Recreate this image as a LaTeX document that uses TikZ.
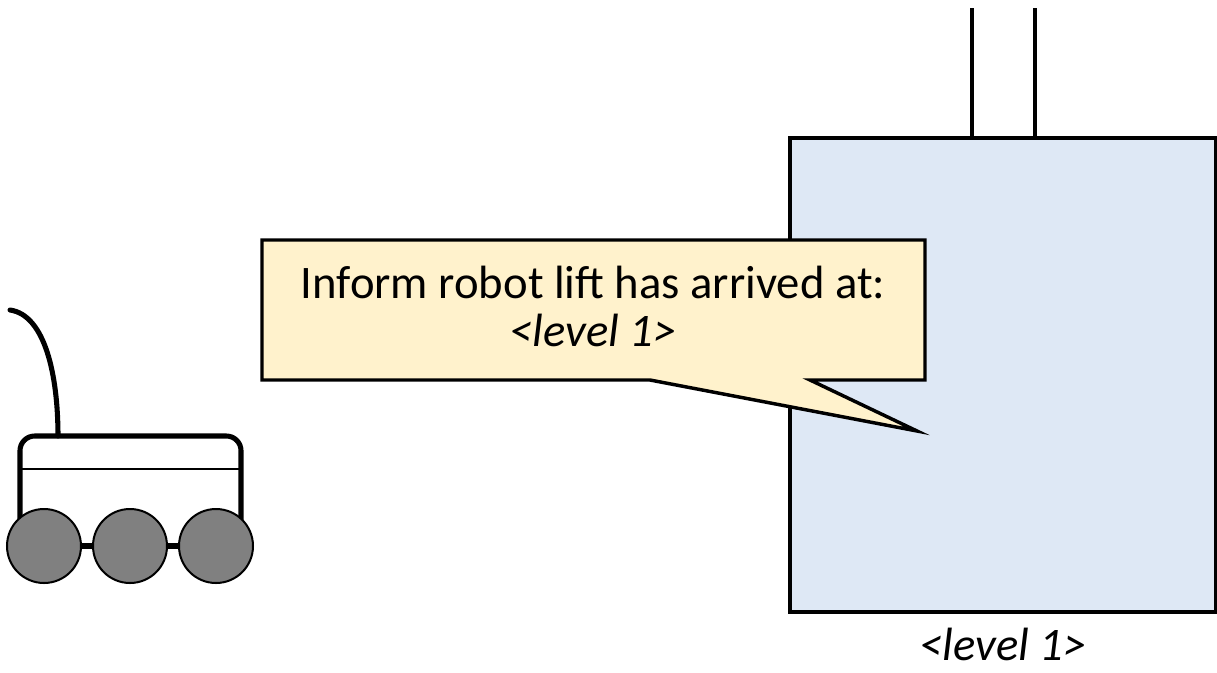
\documentclass[tikz,border=0pt]{standalone}
\usepackage{fontspec}
\setmainfont{Carlito}
\begin{document}
\begin{tikzpicture}[x=0.75pt,y=-0.75pt,
  liftbox/.style={draw=black,fill=liftblue,line width=2.4pt,inner sep=0pt,
    minimum width=319.5pt,minimum height=355.5pt},
  cable/.style={draw=black,line width=3pt},
  bubble/.style={draw=black,fill=noteyellow,line width=2.6pt,line join=miter},
  msgtext/.style={font=\fontsize{35}{42}\selectfont,anchor=base,inner sep=0pt},
  chassis/.style={draw=black,line width=3.8pt},
  wheel/.style={circle,draw=black,fill=wheelgray,line width=1.5pt,minimum size=55.5pt,inner sep=0pt},
  axle/.style={draw=black,line width=3.8pt}]
\definecolor{liftblue}{HTML}{DEE8F5}
\definecolor{noteyellow}{HTML}{FFF2CC}
\definecolor{wheelgray}{HTML}{808080}
\useasboundingbox (0,0) rectangle (1217,672);

% lift car and its hoist cables
\node[liftbox] (lift) at (1003,375) {};
\coordinate (cA) at (972,8);
\coordinate (cB) at (1035,8);
\draw[cable] (cA |- lift.north) -- (cA);
\draw[cable] (cB |- lift.north) -- (cB);
\node[msgtext] (lvl) at (1003,660) {\textit{<level 1>}};

% speech bubble
\draw[bubble] (262,240) -- (925,240) -- (925,380) -- (810,380) -- (917,431)
  -- (650,380) -- (262,380) -- cycle;
\node[msgtext] (msg1) at (593,298) {Inform robot lift has arrived at:};
\node[msgtext] (msg2) at (593,346) {\textit{<level 1>}};

% robot
\coordinate (antTip) at (10,310);
\coordinate (antBase) at (58,436);
\draw[chassis,line cap=round] (antTip) .. controls (45,315) and (58,375) .. (antBase);
\draw[chassis,rounded corners=11pt] (20,525) -- (20,436) -- (241,436) -- (241,525);
\draw[draw=black,line width=1.5pt] (20,469) -- (241,469);
\node[wheel] (w1) at (44,546) {};
\node[wheel] (w2) at (130,546) {};
\node[wheel] (w3) at (216,546) {};
\draw[axle] (w1) -- (w2);
\draw[axle] (w2) -- (w3);
\end{tikzpicture}
\end{document}
